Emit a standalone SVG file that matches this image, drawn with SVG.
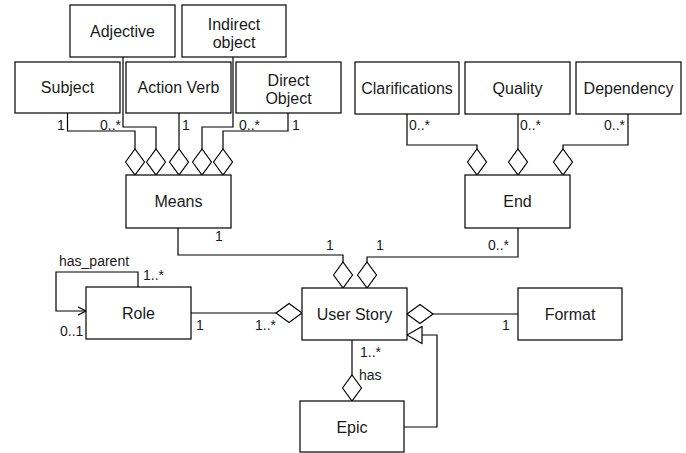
<svg xmlns="http://www.w3.org/2000/svg" width="686" height="453" viewBox="0 0 686 453">
<style>
  .box{fill:#fff;stroke:#000;stroke-width:1.2}
  .lbl{font-family:"Liberation Sans",Arial,Helvetica,sans-serif;font-size:16px;fill:#1a1a1a;text-anchor:middle}
  .m{font-family:"Liberation Sans",Arial,Helvetica,sans-serif;font-size:14px;fill:#1a1a1a}
  .c{fill:none;stroke:#000;stroke-width:1.2}
  .agg{marker-end:url(#diamond)}
</style>
<defs>
  <marker id="diamond" viewBox="0 0 28 21" refX="27" refY="10.5" markerWidth="28" markerHeight="21" markerUnits="userSpaceOnUse" orient="auto">
    <path d="M1,10.5 L14,1 L27,10.5 L14,20 Z" fill="#fff" stroke="#000" stroke-width="1.2"/>
  </marker>
  <marker id="tri" viewBox="0 0 17 19" refX="16" refY="9.5" markerWidth="17" markerHeight="19" markerUnits="userSpaceOnUse" orient="auto">
    <path d="M1,1 L16,9.5 L1,18 Z" fill="#fff" stroke="#000" stroke-width="1.2"/>
  </marker>
  <marker id="open" viewBox="0 0 10 10" refX="9" refY="5" markerWidth="10" markerHeight="10" markerUnits="userSpaceOnUse" orient="auto">
    <path d="M1,1 L9,5 L1,9" fill="none" stroke="#000" stroke-width="1.2"/>
  </marker>
</defs>

<g id="connectors">
  <path class="c agg" d="M67.5,113 V131 H135 V175"/>
  <path class="c agg" d="M123,57 V127 H156 V175"/>
  <path class="c agg" d="M179,113 V175"/>
  <path class="c agg" d="M233,57 V127 H202 V175"/>
  <path class="c agg" d="M288,113 V131 H223 V175"/>
  <path class="c agg" d="M407,114 V145 H477 V175"/>
  <path class="c agg" d="M518,114 V175"/>
  <path class="c agg" d="M628,114 V145 H563 V175"/>
  <path class="c agg" d="M178,228 V255 H343 V288"/>
  <path class="c agg" d="M518,228 V257 H367 V288"/>
  <path class="c agg" d="M191,313 H302"/>
  <path class="c agg" d="M518,314 H407"/>
  <path class="c agg" d="M352,340 V401"/>
  <path class="c" d="M404,427 H437 V335 H407" marker-end="url(#tri)"/>
  <path class="c" d="M138,287 V272 H56 V311 H86" marker-end="url(#open)"/>

  <text class="m" x="57" y="130">1</text>
  <text class="m" x="100" y="130">0..*</text>
  <text class="m" x="182" y="130">1</text>
  <text class="m" x="239" y="130">0..*</text>
  <text class="m" x="292" y="130">1</text>
  <text class="m" x="409" y="130">0..*</text>
  <text class="m" x="520" y="130">0..*</text>
  <text class="m" x="625" y="130" text-anchor="end">0..*</text>
  <text class="m" x="215" y="241">1</text>
  <text class="m" x="326" y="250">1</text>
  <text class="m" x="376" y="250">1</text>
  <text class="m" x="488" y="250">0..*</text>
  <text class="m" x="59" y="266">has_parent</text>
  <text class="m" x="143" y="280">1..*</text>
  <text class="m" x="60" y="336">0..1</text>
  <text class="m" x="196" y="330">1</text>
  <text class="m" x="255" y="330">1..*</text>
  <text class="m" x="502" y="330">1</text>
  <text class="m" x="360" y="357">1..*</text>
  <text class="m" x="359" y="380">has</text>
</g>

<g id="adjective"><rect class="box" x="70" y="5" width="105" height="52"/><text class="lbl" x="122.5" y="37">Adjective</text></g>
<g id="indirect-object"><rect class="box" x="182" y="5" width="104" height="52"/><text class="lbl" x="234" y="30">Indirect</text><text class="lbl" x="234" y="48">object</text></g>
<g id="subject"><rect class="box" x="15" y="62" width="105" height="51"/><text class="lbl" x="67.5" y="93">Subject</text></g>
<g id="action-verb"><rect class="box" x="126" y="62" width="105" height="51"/><text class="lbl" x="178.5" y="93">Action Verb</text></g>
<g id="direct-object"><rect class="box" x="236" y="62" width="105" height="51"/><text class="lbl" x="288.5" y="86">Direct</text><text class="lbl" x="288.5" y="104">Object</text></g>
<g id="clarifications"><rect class="box" x="355" y="62" width="104" height="52"/><text class="lbl" x="407" y="94">Clarifications</text></g>
<g id="quality"><rect class="box" x="465" y="62" width="105" height="52"/><text class="lbl" x="517.5" y="94">Quality</text></g>
<g id="dependency"><rect class="box" x="576" y="62" width="105" height="52"/><text class="lbl" x="628.5" y="94">Dependency</text></g>
<g id="means"><rect class="box" x="126" y="175" width="105" height="53"/><text class="lbl" x="178.5" y="207">Means</text></g>
<g id="end"><rect class="box" x="465" y="175" width="105" height="53"/><text class="lbl" x="517.5" y="207">End</text></g>
<g id="role"><rect class="box" x="86" y="287" width="105" height="52"/><text class="lbl" x="138.5" y="319">Role</text></g>
<g id="user-story"><rect class="box" x="302" y="288" width="105" height="52"/><text class="lbl" x="354.5" y="320">User Story</text></g>
<g id="format"><rect class="box" x="518" y="288" width="104" height="52"/><text class="lbl" x="570" y="320">Format</text></g>
<g id="epic"><rect class="box" x="300" y="401" width="104" height="51"/><text class="lbl" x="352" y="433">Epic</text></g>
</svg>
